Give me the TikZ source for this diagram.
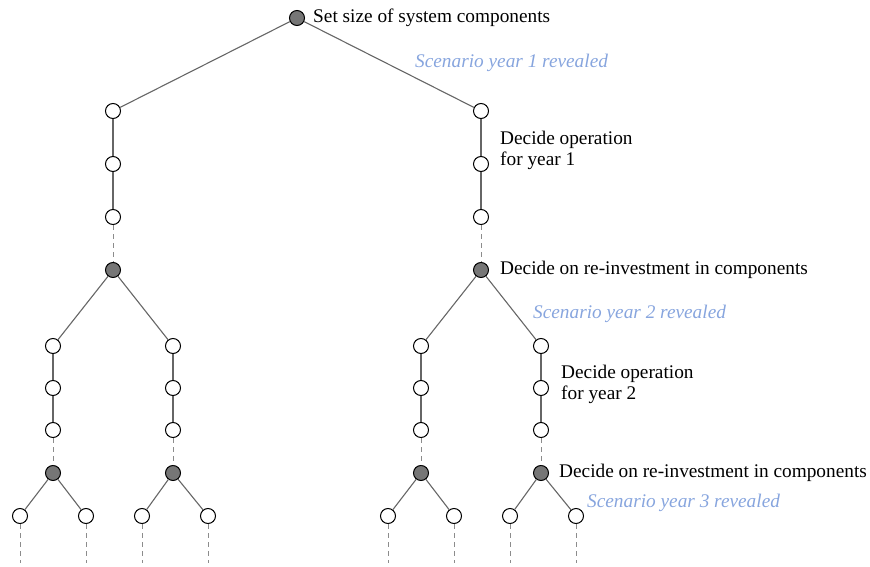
\documentclass[tikz,border=0pt]{standalone}
\usepackage{fontspec}
\setmainfont{Liberation Serif}
\usepackage{xcolor}
\definecolor{revealblue}{RGB}{135,165,222}
\definecolor{decgray}{RGB}{118,118,118}

\begin{document}
\begin{tikzpicture}[
      x=1pt, y=-1pt,
      opnode/.style={circle, draw, line width=1pt, fill=white, minimum size=15pt, inner sep=0pt},
      decnode/.style={circle, draw, line width=1pt, fill=decgray, minimum size=15pt, inner sep=0pt},
      rel/.style={-, line width=1.1pt, draw=black!60},
      gap/.style={-, line width=0.9pt, draw=black!45, dash pattern=on 5pt off 4pt},
      txt/.style={anchor=west, font=\fontsize{19.3}{21}\selectfont, align=left, inner sep=0pt},
      reveal/.style={txt, font=\fontsize{19.3}{21}\selectfont\itshape, text=revealblue}
    ]
    \useasboundingbox (0,0) rectangle (870,567);

    % first stage
    \node[decnode] (top) at (297,18) {};

    \node[opnode]  (la1) at (113,111) {};
    \node[opnode]  (la2) at (113,164) {};
    \node[opnode]  (la3) at (113,217) {};
    \node[decnode] (ld)  at (113,270) {};
    \node[opnode]  (ra1) at (481,111) {};
    \node[opnode]  (ra2) at (481,164) {};
    \node[opnode]  (ra3) at (481,217) {};
    \node[decnode] (rd)  at (481,270) {};

    % second stage
    \node[opnode]  (lla1) at (53,346) {};
    \node[opnode]  (lla2) at (53,388) {};
    \node[opnode]  (lla3) at (53,430) {};
    \node[decnode] (lld)  at (53,473) {};
    \node[opnode]  (lra1) at (173,346) {};
    \node[opnode]  (lra2) at (173,388) {};
    \node[opnode]  (lra3) at (173,430) {};
    \node[decnode] (lrd)  at (173,473) {};
    \node[opnode]  (rla1) at (421,346) {};
    \node[opnode]  (rla2) at (421,388) {};
    \node[opnode]  (rla3) at (421,430) {};
    \node[decnode] (rld)  at (421,473) {};
    \node[opnode]  (rra1) at (541,346) {};
    \node[opnode]  (rra2) at (541,388) {};
    \node[opnode]  (rra3) at (541,430) {};
    \node[decnode] (rrd)  at (541,473) {};

    % third stage
    \node[opnode] (llla) at (20,516) {};
    \node[opnode] (llra) at (86,516) {};
    \node[opnode] (lrla) at (142,516) {};
    \node[opnode] (lrra) at (208,516) {};
    \node[opnode] (rlla) at (388,516) {};
    \node[opnode] (rlra) at (454,516) {};
    \node[opnode] (rrla) at (510,516) {};
    \node[opnode] (rrra) at (576,516) {};
    \coordinate (llle) at (20,563);
    \coordinate (llre) at (86,563);
    \coordinate (lrle) at (142,563);
    \coordinate (lrre) at (208,563);
    \coordinate (rlle) at (388,563);
    \coordinate (rlre) at (454,563);
    \coordinate (rrle) at (510,563);
    \coordinate (rrre) at (576,563);

    % labels
    \node[txt]    (tsize) at (313,18)  {Set size of system components};
    \node[reveal] (tsc1)  at (415,63)  {Scenario year 1 revealed};
    \node[txt]    (top1)  at (500,150) {Decide operation\\for year 1};
    \node[txt]    (tre1)  at (500,270) {Decide on re-investment in components};
    \node[reveal] (tsc2)  at (533,314) {Scenario year 2 revealed};
    \node[txt]    (top2)  at (561,384) {Decide operation\\for year 2};
    \node[txt]    (tre2)  at (559,473) {Decide on re-investment in components};
    \node[reveal] (tsc3)  at (587,503) {Scenario year 3 revealed};

    \begin{scope}[on background layer/.try]
    \draw[rel] (top) -- (la1);
    \draw[rel] (top) -- (ra1);
    \draw[rel] (la1) -- (la2) -- (la3);
    \draw[rel] (ra1) -- (ra2) -- (ra3);
    \draw[gap] (la3) -- (ld);
    \draw[gap] (ra3) -- (rd);

    \draw[rel] (ld) -- (lla1);
    \draw[rel] (ld) -- (lra1);
    \draw[rel] (rd) -- (rla1);
    \draw[rel] (rd) -- (rra1);
    \draw[rel] (lla1) -- (lla2) -- (lla3);
    \draw[rel] (lra1) -- (lra2) -- (lra3);
    \draw[rel] (rla1) -- (rla2) -- (rla3);
    \draw[rel] (rra1) -- (rra2) -- (rra3);
    \draw[gap] (lla3) -- (lld);
    \draw[gap] (lra3) -- (lrd);
    \draw[gap] (rla3) -- (rld);
    \draw[gap] (rra3) -- (rrd);

    \draw[rel] (lld) -- (llla);
    \draw[rel] (lld) -- (llra);
    \draw[rel] (lrd) -- (lrla);
    \draw[rel] (lrd) -- (lrra);
    \draw[rel] (rld) -- (rlla);
    \draw[rel] (rld) -- (rlra);
    \draw[rel] (rrd) -- (rrla);
    \draw[rel] (rrd) -- (rrra);
    \draw[gap] (llla) -- (llle);
    \draw[gap] (llra) -- (llre);
    \draw[gap] (lrla) -- (lrle);
    \draw[gap] (lrra) -- (lrre);
    \draw[gap] (rlla) -- (rlle);
    \draw[gap] (rlra) -- (rlre);
    \draw[gap] (rrla) -- (rrle);
    \draw[gap] (rrra) -- (rrre);
    \end{scope}
  \end{tikzpicture}
\end{document}
